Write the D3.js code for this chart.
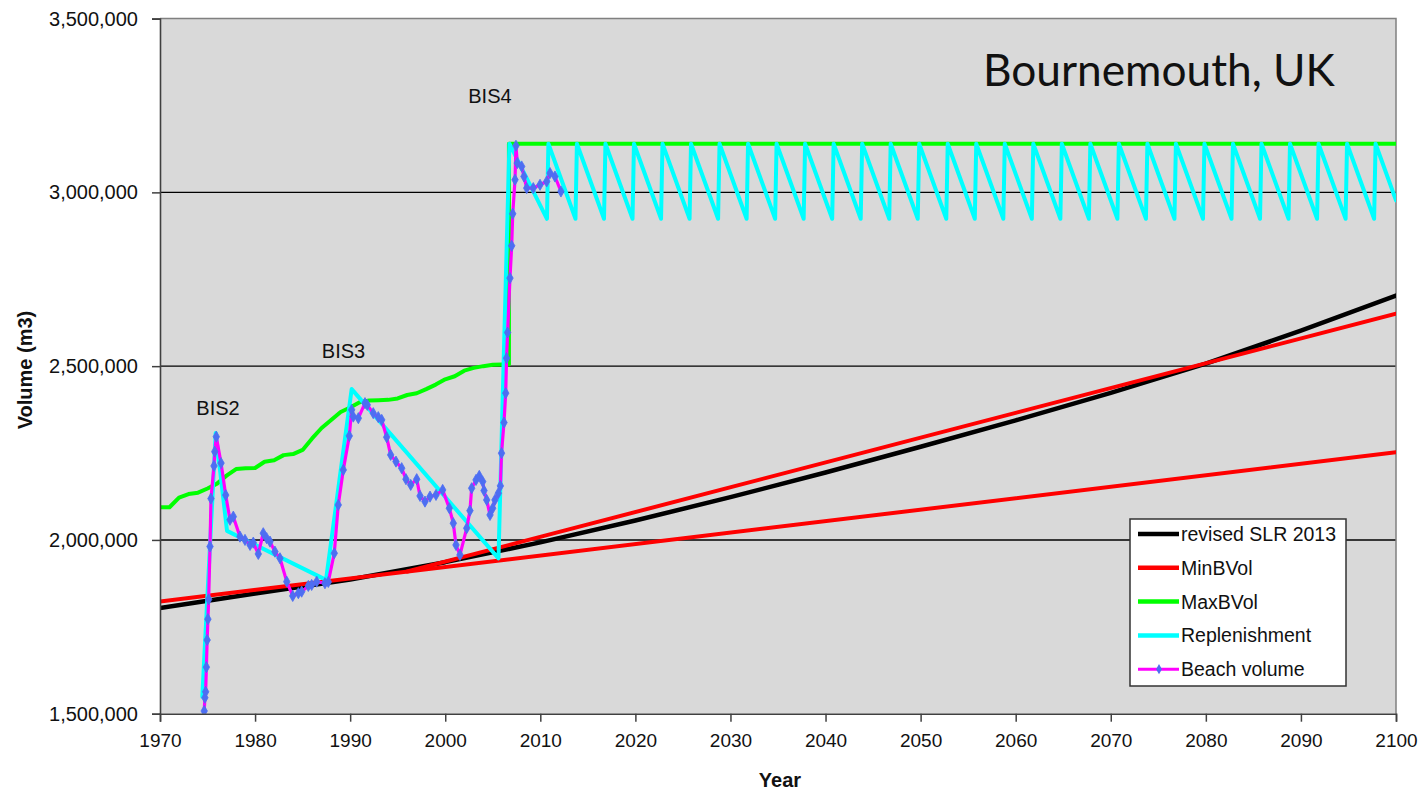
<!DOCTYPE html>
<html>
<head>
<meta charset="utf-8">
<script src="https://cdn.jsdelivr.net/npm/d3@7"></script>
<style>
  html, body { margin: 0; padding: 0; background: #ffffff; }
  svg { display: block; }
  text { font-family: "Liberation Sans", Arial, sans-serif; fill: #111; }
</style>
</head>
<body>
<svg id="chart" width="1418" height="792"></svg>
<script>
// ---- axis ticks ----
const yearTicks = [1970, 1980, 1990, 2000, 2010, 2020, 2030, 2040, 2050, 2060, 2070, 2080, 2090, 2100];
const volumeTicks = [1500000, 2000000, 2500000, 3000000, 3500000];
const gridValues = [2000000, 2500000, 3000000];

// ---- revised SLR 2013 ----
const slrYears  = [1970, 1980, 1990, 2000, 2010, 2020, 2030, 2040, 2050, 2060, 2070, 2080, 2090, 2100];
const slrValues = [1804000, 1846000, 1886000, 1936000, 1993000, 2056000, 2123000, 2194000, 2268000, 2344000, 2423000, 2507000, 2602000, 2703000];

// ---- MinBVol (original and revised lines) ----
const minBVolYears  = [1970, 2100];
const minBVolValues = [1823000, 2252000];
const minBVolRevYears  = [1996, 2100];
const minBVolRevValues = [1909000, 2651000];

// ---- MaxBVol ----
const maxBVolYears = [1970, 1971, 1972, 1973, 1974, 1975, 1976, 1977, 1978, 1979, 1980, 1981, 1982, 1983, 1984,
  1985, 1986, 1987, 1988, 1989, 1990, 1991, 1992, 1993, 1994, 1995, 1996, 1997, 1998, 1999, 2000, 2001, 2002,
  2003, 2004, 2005, 2006, 2006.7, 2006.7, 2100];
const maxBVolValues = [2094000, 2094000, 2122000, 2132000, 2136000, 2148000, 2162000, 2185000, 2204000, 2206000,
  2207000, 2225000, 2229000, 2244000, 2247000, 2259000, 2292000, 2322000, 2345000, 2368000, 2381000, 2396000,
  2401000, 2402000, 2403000, 2407000, 2417000, 2422000, 2434000, 2447000, 2462000, 2471000, 2487000, 2495000,
  2500000, 2504000, 2505000, 2505000, 3140000, 3140000];

// ---- Replenishment ----
const replYears = [1974.45, 1975.86, 1977.05, 1987.46, 1990.16, 2005.6, 2006.75,
  2010.7, 2010.85, 2013.7, 2013.85, 2016.7, 2016.85, 2019.7, 2019.85, 2022.7, 2022.85, 2025.7, 2025.85,
  2028.7, 2028.85, 2031.7, 2031.85, 2034.7, 2034.85, 2037.7, 2037.85, 2040.7, 2040.85, 2043.7, 2043.85,
  2046.7, 2046.85, 2049.7, 2049.85, 2052.7, 2052.85, 2055.7, 2055.85, 2058.7, 2058.85, 2061.7, 2061.85,
  2064.7, 2064.85, 2067.7, 2067.85, 2070.7, 2070.85, 2073.7, 2073.85, 2076.7, 2076.85, 2079.7, 2079.85,
  2082.7, 2082.85, 2085.7, 2085.85, 2088.7, 2088.85, 2091.7, 2091.85, 2094.7, 2094.85, 2097.7, 2097.85, 2100];
const replValues = [1549000, 2308000, 2026000, 1885000, 2434000, 1947000, 3140000,
  2924000, 3140000, 2924000, 3140000, 2924000, 3140000, 2924000, 3140000, 2924000, 3140000, 2924000, 3140000,
  2924000, 3140000, 2924000, 3140000, 2924000, 3140000, 2924000, 3140000, 2924000, 3140000, 2924000, 3140000,
  2924000, 3140000, 2924000, 3140000, 2924000, 3140000, 2924000, 3140000, 2924000, 3140000, 2924000, 3140000,
  2924000, 3140000, 2924000, 3140000, 2924000, 3140000, 2924000, 3140000, 2924000, 3140000, 2924000, 3140000,
  2924000, 3140000, 2924000, 3140000, 2924000, 3140000, 2924000, 3140000, 2924000, 3140000, 2924000, 3140000, 2977000];

// ---- Beach volume (surveys) ----
const beachYears = [1974.65, 1974.72, 1974.80, 1974.88, 1974.96, 1975.04, 1975.12, 1975.26, 1975.36, 1975.68,
  1975.76, 1975.92, 1976.42, 1976.91, 1977.36, 1977.71, 1978.41, 1978.94, 1979.47, 1979.81, 1980.34, 1980.86,
  1981.22, 1981.57, 1982.09, 1982.62, 1983.33, 1983.96, 1984.55, 1984.90, 1985.60, 1985.95, 1986.48, 1987.35,
  1987.70, 1988.33, 1988.75, 1989.28, 1989.91, 1990.16, 1990.33, 1990.86, 1991.56, 1991.80, 1992.43, 1992.96,
  1993.32, 1993.84, 1994.26, 1994.82, 1995.42, 1995.87, 1996.37, 1997.00, 1997.35, 1997.87, 1998.40, 1999.03,
  1999.73, 2000.43, 2000.85, 2001.13, 2001.55, 2002.26, 2002.60, 2002.78, 2003.24, 2003.58, 2003.94, 2004.08,
  2004.36, 2004.71, 2004.99, 2005.23, 2005.58, 2005.80, 2005.92, 2006.18, 2006.36, 2006.45, 2006.56, 2006.81,
  2006.99, 2007.10, 2007.34, 2007.44, 2007.58, 2008.04, 2008.28, 2008.57, 2009.26, 2009.97, 2010.67, 2011.02,
  2011.54, 2012.17];
const beachValues = [1507800, 1546000, 1563000, 1634000, 1712000, 1772000, 1829000, 1981000, 2119000, 2213000,
  2254000, 2297000, 2221000, 2129000, 2058000, 2067000, 2009500, 2000000, 1985600, 1992200, 1959700, 2019300,
  2004900, 1995100, 1966300, 1947300, 1880000, 1838800, 1846600, 1851200, 1867600, 1870500, 1880000, 1875400,
  1879100, 1961700, 2100700, 2201500, 2299300, 2374200, 2354900, 2350300, 2393500, 2388600, 2364700, 2353200,
  2345400, 2295600, 2244700, 2225400, 2206400, 2174700, 2158300, 2174700, 2126700, 2110300, 2124600, 2129500,
  2143900, 2091200, 2048100, 1985600, 1956800, 2033700, 2084300, 2148800, 2172700, 2184200, 2167800, 2141900,
  2115100, 2071900, 2091200, 2115100, 2134400, 2155400, 2249600, 2337600, 2422300, 2523000, 2596700, 2753300,
  2846300, 2938400, 3036300, 3134100, 3084300, 3074500, 3045700, 3012300, 3012300, 3021800, 3031400, 3055500,
  3045700, 3002600];

// ---- series styling and legend ----
const legendLabels = ["revised SLR 2013", "MinBVol", "MaxBVol", "Replenishment", "Beach volume"];
const legendColors = ["#000000", "#ff0000", "#00ff00", "#00ffff", "#ff00ff"];

// ---- text annotations (anchored in data space) ----
const annotationText  = ["BIS2", "BIS3", "BIS4"];
const annotationYears = [1976.1, 1989.3, 2004.7];
const annotationVals  = [2380000, 2544000, 3276000];

const plot = { left: 160, right: 1396, top: 18.6, bottom: 713.7 };

const svg = d3.select("#chart");
const x = d3.scaleLinear().domain([1970, 2100]).range([plot.left, plot.right]);
const y = d3.scaleLinear().domain([1500000, 3500000]).range([plot.bottom, plot.top]);

const zip = (xs, ys) => xs.map((d, i) => [d, ys[i]]);

// plot background
svg.append("rect")
  .attr("x", plot.left).attr("y", plot.top)
  .attr("width", plot.right - plot.left).attr("height", plot.bottom - plot.top)
  .attr("fill", "#d9d9d9");

// horizontal gridlines
svg.append("g").selectAll("line").data(gridValues).join("line")
  .attr("x1", plot.left).attr("x2", plot.right)
  .attr("y1", d => y(d)).attr("y2", d => y(d))
  .attr("stroke", "#000").attr("stroke-width", 1.4);

// plot border (top and right)
svg.append("path")
  .attr("d", `M${plot.left},${plot.top}H${plot.right}V${plot.bottom}`)
  .attr("fill", "none").attr("stroke", "#808080").attr("stroke-width", 1.5);

svg.append("clipPath").attr("id", "plotClip").append("rect")
  .attr("x", plot.left).attr("y", plot.top)
  .attr("width", plot.right - plot.left).attr("height", plot.bottom - plot.top);

const series = svg.append("g").attr("clip-path", "url(#plotClip)");
const line = d3.line().x(d => x(d[0])).y(d => y(d[1]));

function drawLine(data, color, width) {
  series.append("path").datum(data)
    .attr("d", line)
    .attr("fill", "none")
    .attr("stroke", color)
    .attr("stroke-width", width)
    .attr("stroke-linejoin", "round")
    .attr("stroke-linecap", "round");
}

drawLine(zip(slrYears, slrValues), "#000000", 4.5);
drawLine(zip(minBVolYears, minBVolValues), "#ff0000", 4);
drawLine(zip(minBVolRevYears, minBVolRevValues), "#ff0000", 4);
drawLine(zip(maxBVolYears, maxBVolValues), "#00ff00", 4);
drawLine(zip(replYears, replValues), "#00ffff", 4);
drawLine(zip(beachYears, beachValues), "#ff00ff", 3.2);

// survey markers
const marker = d3.symbol().type(d3.symbolDiamond).size(36);
series.append("g").selectAll("path").data(zip(beachYears, beachValues)).join("path")
  .attr("d", marker)
  .attr("transform", d => `translate(${x(d[0])},${y(d[1])})`)
  .attr("fill", "#4d6ef2")
  .attr("stroke", "#4d6ef2").attr("stroke-width", 0.8);

// axes
const yAxis = d3.axisLeft(y).tickValues(volumeTicks).tickFormat(d3.format(",")).tickSize(8).tickPadding(14);
const gy = svg.append("g").attr("transform", `translate(${plot.left},0)`).call(yAxis);
gy.select(".domain").attr("stroke", "#404040").attr("stroke-width", 1.6);
gy.selectAll(".tick line").attr("stroke", "#404040").attr("stroke-width", 1.5);
gy.selectAll(".tick text").attr("font-size", 20).attr("fill", "#111")
  .style("font-family", "'Liberation Sans', Arial, sans-serif");

const xAxis = d3.axisBottom(x).tickValues(yearTicks).tickFormat(d3.format("d")).tickSize(8).tickPadding(12);
const gx = svg.append("g").attr("transform", `translate(0,${plot.bottom})`).call(xAxis);
gx.select(".domain").attr("stroke", "#404040").attr("stroke-width", 1.6);
gx.selectAll(".tick line").attr("stroke", "#404040").attr("stroke-width", 1.5);
gx.selectAll(".tick text").attr("font-size", 19).attr("fill", "#111")
  .style("font-family", "'Liberation Sans', Arial, sans-serif");

// axis titles
svg.append("text")
  .attr("transform", `translate(25,370) rotate(-90)`)
  .attr("text-anchor", "middle").attr("dominant-baseline", "central")
  .attr("font-size", 20).attr("font-weight", "bold")
  .text("Volume (m3)");
svg.append("text")
  .attr("x", 780).attr("y", 787)
  .attr("text-anchor", "middle")
  .attr("font-size", 20).attr("font-weight", "bold")
  .text("Year");

// nourishment scheme labels
svg.append("g").selectAll("text").data(annotationText).join("text")
  .attr("x", (d, i) => x(annotationYears[i]))
  .attr("y", (d, i) => y(annotationVals[i]))
  .attr("text-anchor", "middle").attr("dominant-baseline", "central")
  .attr("font-size", 20)
  .text(d => d);

// site title, sized to its box
const title = svg.append("text")
  .attr("x", 983).attr("y", 86)
  .style("font-family", "Lato, 'Open Sans', sans-serif")
  .attr("font-size", 40).attr("fill", "#000")
  .text("Bournemouth, UK");
const tw = title.node().getComputedTextLength();
title.attr("font-size", 40 * 352 / tw);

// legend
const lg = svg.append("g").attr("transform", "translate(1130,519)");
lg.append("rect").attr("width", 216).attr("height", 167)
  .attr("fill", "#ffffff").attr("stroke", "#333").attr("stroke-width", 1.5);
const rows = lg.selectAll("g.row").data(legendLabels).join("g")
  .attr("class", "row")
  .attr("transform", (d, i) => `translate(0,${15 + i * 33.8})`);
rows.append("line")
  .attr("x1", 8).attr("x2", 49).attr("y1", 0).attr("y2", 0)
  .attr("stroke", (d, i) => legendColors[i])
  .attr("stroke-width", (d, i) => i === 4 ? 3 : 4.5);
rows.filter((d, i) => i === 4).append("path")
  .attr("d", d3.symbol().type(d3.symbolDiamond).size(30))
  .attr("transform", "translate(29,0)")
  .attr("fill", "#4d6ef2");
rows.append("text")
  .attr("x", 51).attr("y", 0).attr("dominant-baseline", "central")
  .attr("font-size", 19.5)
  .text(d => d);
</script>
</body>
</html>
